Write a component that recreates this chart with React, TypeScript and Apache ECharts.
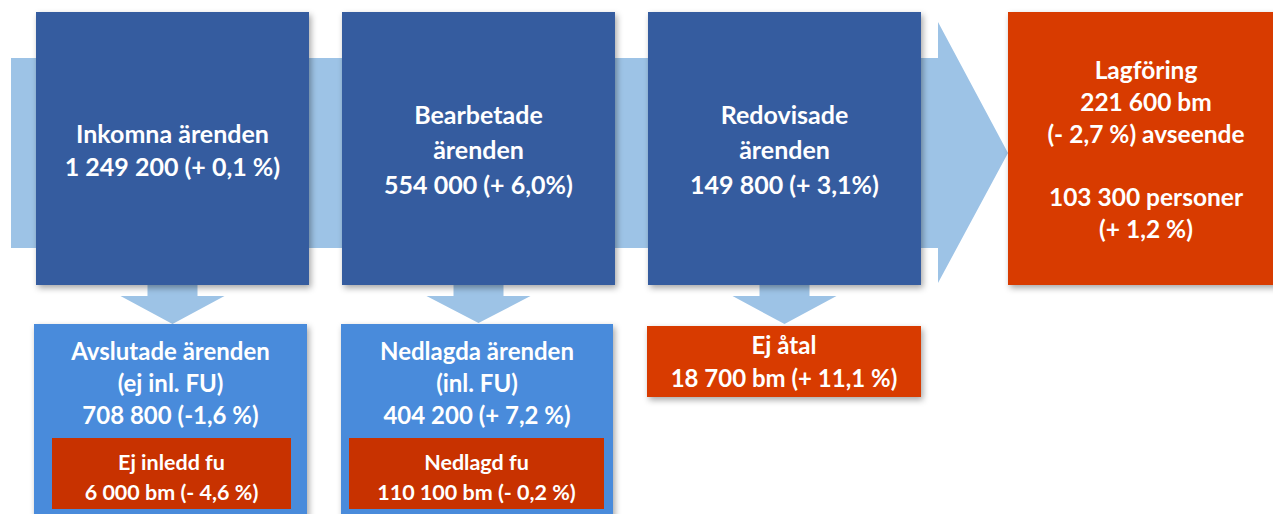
import React, { useEffect, useRef } from "react";
import * as echarts from "echarts";

const topTitles = ["Inkomna ärenden", "Bearbetade\närenden", "Redovisade\närenden"];
const topValues = ["1 249 200 (+ 0,1 %)", "554 000 (+ 6,0%)", "149 800 (+ 3,1%)"];
const finalLines = ["Lagföring", "221 600 bm", "(- 2,7 %) avseende", "", "103 300 personer", "(+ 1,2 %)"];
const lowerTitles = ["Avslutade ärenden\n(ej inl. FU)", "Nedlagda ärenden\n(inl. FU)"];
const lowerValues = ["708 800 (-1,6 %)", "404 200 (+ 7,2 %)"];
const innerTitles = ["Ej inledd fu", "Nedlagd fu"];
const innerValues = ["6 000 bm (- 4,6 %)", "110 100 bm (- 0,2 %)"];
const ejAtal = ["Ej åtal", "18 700 bm (+ 11,1 %)"];

const DARK = "#365C9F";
const LIGHT = "#9DC3E6";
const MID = "#4A8BDB";
const ORANGE = "#D83A01";
const RED = "#C83200";
const FONT = "Lato, 'Open Sans', sans-serif";

const shadow = { shadowBlur: 6, shadowOffsetX: 2, shadowOffsetY: 3, shadowColor: "rgba(0,0,0,0.35)" };

function downArrow(cx: number, top: number, tip: number) {
  return {
    type: "polygon",
    shape: {
      points: [
        [cx - 25, top], [cx + 25, top], [cx + 25, top + 13], [cx + 52, top + 13],
        [cx, tip], [cx - 52, top + 13], [cx - 25, top + 13],
      ],
    },
    style: { fill: LIGHT },
  };
}

export default function App() {
  const ref = useRef<HTMLDivElement>(null);
  useEffect(() => {
    if (!ref.current) return;
    const chart = echarts.init(ref.current, null, { renderer: "svg" });
    const els: any[] = [];
    els.push({
      type: "polygon",
      shape: { points: [[11, 58], [938, 58], [938, 22], [1008, 153], [938, 283], [938, 248], [11, 248]] },
      style: { fill: LIGHT },
    });
    const boxX = [36, 342, 648];
    const boxW = 273;
    els.push(downArrow(boxX[0] + boxW / 2, 283, 324));
    els.push(downArrow(boxX[1] + boxW / 2, 283, 323));
    els.push(downArrow(boxX[2] + boxW / 2, 283, 324));
    topTitles.forEach((t, i) => {
      els.push({ type: "rect", shape: { x: boxX[i], y: 12, width: boxW, height: 273 }, style: { fill: DARK, ...shadow } });
      const lines = t.split("\n").length + 1;
      els.push({
        type: "text",
        style: {
          text: t + "\n" + topValues[i],
          x: boxX[i] + boxW / 2,
          y: lines === 2 ? 149 : 149,
          align: "center",
          verticalAlign: "middle",
          fill: "#fff",
          font: `bold 25px ${FONT}`,
          lineHeight: lines === 2 ? 33 : 35,
        },
      });
    });
    els.push({ type: "rect", shape: { x: 1008, y: 12, width: 280, height: 273 }, style: { fill: ORANGE, ...shadow } });
    els.push({
      type: "text",
      style: {
        text: finalLines.join("\n"),
        x: 1146, y: 149, align: "center", verticalAlign: "middle",
        fill: "#fff", font: `bold 24.5px ${FONT}`, lineHeight: 31.8,
      },
    });
    const lowX = [34, 341];
    const lowW = [273, 272];
    const innX = [52, 349];
    const innW = [239, 255];
    lowerTitles.forEach((t, i) => {
      els.push({ type: "rect", shape: { x: lowX[i], y: 324, width: lowW[i], height: 200 }, style: { fill: MID, ...shadow } });
      els.push({
        type: "text",
        style: {
          text: t + "\n" + lowerValues[i],
          x: lowX[i] + lowW[i] / 2, y: 382, align: "center", verticalAlign: "middle",
          fill: "#fff", font: `bold 24px ${FONT}`, lineHeight: 32,
        },
      });
      els.push({ type: "rect", shape: { x: innX[i], y: 438, width: innW[i], height: 71 }, style: { fill: RED } });
      els.push({
        type: "text",
        style: {
          text: innerTitles[i] + "\n" + innerValues[i],
          x: innX[i] + innW[i] / 2, y: 477, align: "center", verticalAlign: "middle",
          fill: "#fff", font: `bold 21.5px ${FONT}`, lineHeight: 30,
        },
      });
    });
    els.push({ type: "rect", shape: { x: 647, y: 326, width: 274, height: 71 }, style: { fill: ORANGE, ...shadow } });
    els.push({
      type: "text",
      style: {
        text: ejAtal.join("\n"),
        x: 784, y: 361, align: "center", verticalAlign: "middle",
        fill: "#fff", font: `bold 24px ${FONT}`, lineHeight: 33,
      },
    });
    chart.setOption({ animation: false, backgroundColor: "#ffffff", graphic: { elements: els } });
    return () => chart.dispose();
  }, []);
  return <div ref={ref} style={{ position: "fixed", left: 0, top: 0, width: 1273, height: 514 }} />;
}
